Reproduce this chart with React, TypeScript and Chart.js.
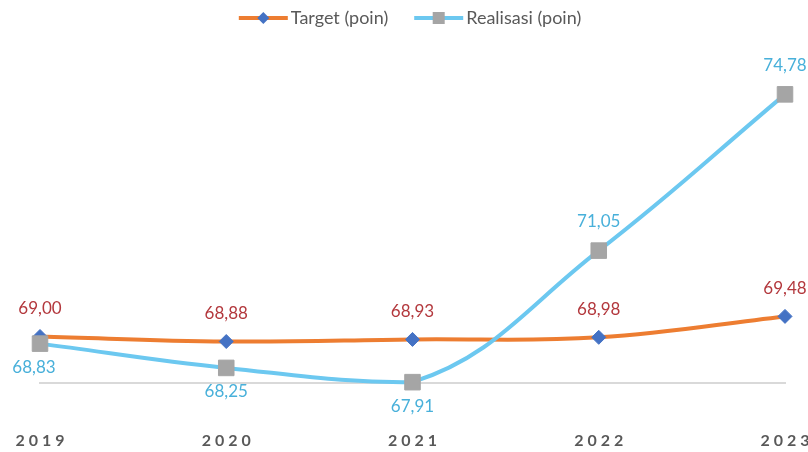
import React, { useEffect, useRef } from 'react';
import { Chart, registerables } from 'chart.js';

Chart.register(...registerables);

const years = ['2019', '2020', '2021', '2022', '2023'];
const targetValues = [69.0, 68.88, 68.93, 68.98, 69.48];
const realisasiValues = [68.83, 68.25, 67.91, 71.05, 74.78];
const seriesNames = ['Target (poin)', 'Realisasi (poin)'];
const realisasiLabelBelow = [true, true, true, false, false];

const ORANGE = '#ED7D31';
const BLUE = '#6CC8F0';
const DIAMOND = '#4472C4';
const GRAY = '#A5A5A5';
const TARGET_LABEL = '#B3383D';
const REAL_LABEL = '#48B0DA';
const TEXT = '#595959';

const fmt = (v: number) => v.toFixed(2).replace('.', ',');

const labelPlugin = {
  id: 'valueLabels',
  afterDatasetsDraw(chart: any) {
    const ctx = chart.ctx;
    ctx.save();
    ctx.font = '17px Lato';
    ctx.textAlign = 'center';
    ctx.textBaseline = 'middle';
    chart.data.datasets.forEach((ds: any, di: number) => {
      const meta = chart.getDatasetMeta(di);
      meta.data.forEach((pt: any, i: number) => {
        const v = ds.data[i] as number;
        let y: number;
        if (ds.label === seriesNames[0]) {
          ctx.fillStyle = TARGET_LABEL;
          y = pt.y - 28;
        } else {
          ctx.fillStyle = REAL_LABEL;
          y = realisasiLabelBelow[i] ? pt.y + 24 : pt.y - 29;
        }
        let x = pt.x;
        if (i === 0 && ds.label === seriesNames[1]) x -= 6;
        ctx.fillText(fmt(v), x, y);
      });
    });
    ctx.restore();
  },
};

const axisAndLegendPlugin = {
  id: 'axisAndLegend',
  afterDraw(chart: any) {
    const ctx = chart.ctx;
    const xs = chart.scales.x;
    ctx.save();
    // x tick labels
    ctx.font = 'bold 16px Lato';
    (ctx as any).letterSpacing = '4px';
    ctx.fillStyle = TEXT;
    ctx.textAlign = 'center';
    ctx.textBaseline = 'middle';
    years.forEach((y, i) => {
      ctx.fillText(y, xs.getPixelForValue(i) + 2, 441);
    });
    (ctx as any).letterSpacing = '0px';

    // legend
    ctx.font = '18px Lato';
    const lineW = 49;
    const gap = 3;
    const itemGap = 26;
    const w0 = ctx.measureText(seriesNames[0]).width;
    const w1 = ctx.measureText(seriesNames[1]).width;
    const total = lineW + gap + w0 + itemGap + lineW + gap + w1;
    let x = 410 - total / 2;
    const ly = 18;
    ctx.textAlign = 'left';
    ctx.textBaseline = 'middle';
    // item 1
    ctx.strokeStyle = ORANGE;
    ctx.lineWidth = 4;
    ctx.beginPath();
    ctx.moveTo(x, ly);
    ctx.lineTo(x + lineW, ly);
    ctx.stroke();
    ctx.fillStyle = DIAMOND;
    ctx.beginPath();
    const cx = x + lineW / 2;
    ctx.moveTo(cx, ly - 6);
    ctx.lineTo(cx + 6, ly);
    ctx.lineTo(cx, ly + 6);
    ctx.lineTo(cx - 6, ly);
    ctx.closePath();
    ctx.fill();
    x += lineW + gap;
    ctx.fillStyle = TEXT;
    ctx.fillText(seriesNames[0], x, ly);
    x += w0 + itemGap;
    // item 2
    ctx.strokeStyle = BLUE;
    ctx.beginPath();
    ctx.moveTo(x, ly);
    ctx.lineTo(x + lineW, ly);
    ctx.stroke();
    ctx.fillStyle = GRAY;
    const cx2 = x + lineW / 2;
    ctx.fillRect(cx2 - 6, ly - 6, 12, 12);
    x += lineW + gap;
    ctx.fillStyle = TEXT;
    ctx.fillText(seriesNames[1], x, ly);
    ctx.restore();
  },
};

export default function App() {
  const ref = useRef<HTMLCanvasElement | null>(null);
  useEffect(() => {
    document.body.style.margin = '0';
    if (!ref.current) return;
    const chart = new Chart(ref.current, {
      type: 'line',
      data: {
        labels: years,
        datasets: [
          {
            label: seriesNames[0],
            data: targetValues,
            borderColor: ORANGE,
            borderWidth: 4,
            tension: 0.4,
            pointStyle: 'rectRot',
            pointRadius: 7,
            pointBackgroundColor: DIAMOND,
            pointBorderColor: DIAMOND,
            pointBorderWidth: 1,
            clip: false,
            order: 1,
          },
          {
            label: seriesNames[1],
            data: realisasiValues,
            borderColor: BLUE,
            borderWidth: 4,
            tension: 0.4,
            pointStyle: 'rect',
            pointRadius: 11,
            pointBackgroundColor: GRAY,
            pointBorderColor: GRAY,
            pointBorderWidth: 1,
            clip: false,
            order: 0,
          },
        ],
      },
      options: {
        animation: false,
        responsive: true,
        maintainAspectRatio: false,
        layout: { padding: { left: 40, right: 23, top: 60, bottom: 61 } },
        plugins: {
          legend: { display: false },
          tooltip: { enabled: false },
        },
        scales: {
          x: {
            offset: false,
            grid: { display: false },
            ticks: { display: false },
            border: { display: true, color: '#D9D9D9', width: 2 },
          },
          y: {
            display: false,
            min: 67.89,
            max: 75.6,
          },
        },
      },
      plugins: [labelPlugin, axisAndLegendPlugin],
    });
    return () => chart.destroy();
  }, []);
  return (
    <div style={{ width: 808, height: 452, position: 'relative' }}>
      <canvas ref={ref} />
    </div>
  );
}
